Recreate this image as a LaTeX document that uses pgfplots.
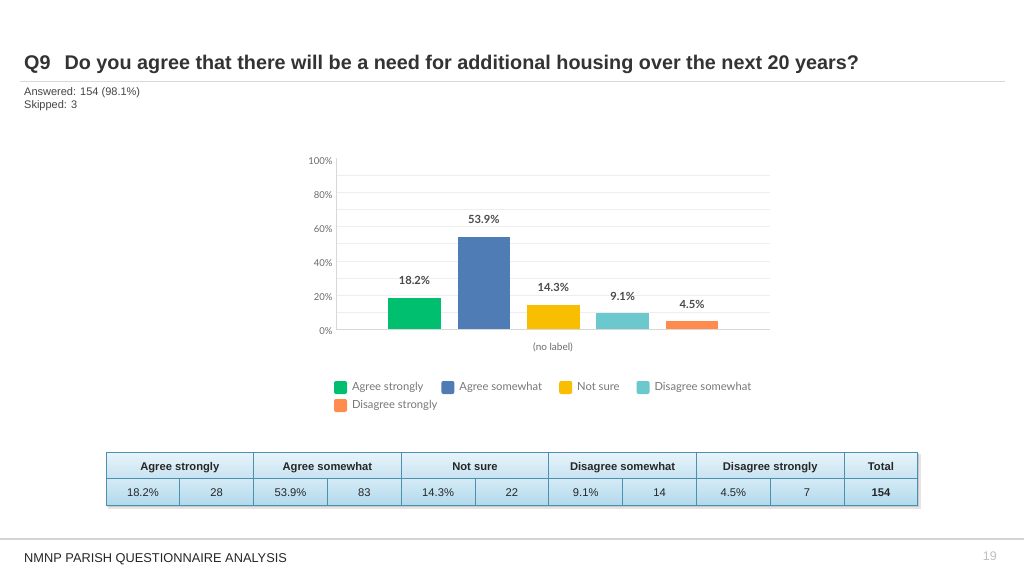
\documentclass[border=0pt]{standalone}
\usepackage{fontspec}
\setmainfont{Liberation Sans}
\newfontfamily\lato{Lato}
\usepackage{pgfplots}
\pgfplotsset{compat=1.18}
\definecolor{cgreen}{HTML}{00BF6F}
\definecolor{cblue}{HTML}{507CB6}
\definecolor{cyellow}{HTML}{F9BE00}
\definecolor{cteal}{HTML}{6BC8CD}
\definecolor{corange}{HTML}{FF8B4F}
\definecolor{titlec}{HTML}{333333}
\definecolor{subc}{HTML}{444444}
\definecolor{rulec}{HTML}{D9D9D9}
\definecolor{gridc}{HTML}{EEEEEE}
\definecolor{axisc}{HTML}{D8D8D8}
\definecolor{tickc}{HTML}{6A6A6A}
\definecolor{labc}{HTML}{4A4A4A}
\definecolor{legc}{HTML}{777777}
\definecolor{hdtop}{HTML}{E8F4FA}
\definecolor{hdbot}{HTML}{C8E3F1}
\definecolor{dttop}{HTML}{D5EBF6}
\definecolor{dtbot}{HTML}{B2D9EC}
\definecolor{bordc}{HTML}{4C90AF}
\definecolor{footc}{HTML}{D4D4D4}
\begin{document}
\begin{tikzpicture}[x=1pt,y=1pt]
\useasboundingbox (0,0) rectangle (1024,576);
\fill[white] (0,0) rectangle (1024,576);
% header
\node[anchor=base west, inner sep=0pt, text=titlec, font=\fontsize{19.8}{23}\selectfont\bfseries] at (24,506.7) {Q9\hspace{14pt}Do you agree that there will be a need for additional housing over the next 20 years?};
\draw[rulec, line width=0.8pt] (20,495) -- (1005,495);
\node[anchor=base west, inner sep=0pt, text=subc, font=\fontsize{11}{13}\selectfont] at (24,480) {Answered: 154 (98.1\%)};
\node[anchor=base west, inner sep=0pt, text=subc, font=\fontsize{11}{13}\selectfont] at (24,467) {Skipped: 3};
% chart
\begin{axis}[
  at={(336pt,247pt)}, anchor=south west,
  scale only axis, width=434pt, height=170.5pt,
  ymin=0, ymax=100, xmin=-1.131, xmax=5.122,
  ybar, bar width=52.5pt, bar shift=0pt,
  /pgf/number format/assume math mode=true,
  xtick=\empty,
  ytick={0,20,...,100}, minor ytick={10,20,...,90},
  yminorgrids,
  minor grid style={gridc, line width=0.6pt},
  major tick length=0pt, minor tick length=0pt,
  yticklabel={\pgfmathprintnumber{\tick}\%},
  yticklabel style={font=\lato\fontsize{9.5}{11}\selectfont, text=tickc, yshift=-2.5pt},
  axis x line*=bottom, axis y line*=left,
  axis line style={axisc, line width=0.8pt, -},
  xlabel={(no label)},
  xlabel style={at={(axis description cs:0.5,0)}, anchor=center, yshift=-18pt, font=\lato\fontsize{10}{12}\selectfont, text=tickc},
  nodes near coords={\pgfmathprintnumber[fixed,precision=1]{\pgfplotspointmeta}\%},
  every node near coord/.append style={font=\lato\bfseries\fontsize{11.2}{13}\selectfont, text=labc, anchor=south, inner sep=0pt, yshift=13pt},
  legend columns=4, legend cell align=left,
  legend style={at={(0,0)}, anchor=north west, xshift=-2pt, yshift=-52pt, draw=none, fill=none, inner sep=0pt, outer sep=0pt,
    column sep=5pt, row sep=5pt, font=\lato\fontsize{11.2}{13}\selectfont, text=legc, nodes={inner sep=0pt},
    /tikz/column 2/.style={column sep=4pt}, /tikz/column 4/.style={column sep=17pt}, /tikz/column 6/.style={column sep=17pt}},
  lg/.style={legend image code/.code={\fill[##1, draw=none, rounded corners=2pt] (0pt,-6.5pt) rectangle (13pt,6.5pt);}},
]
\addplot[fill=cgreen, draw=none, lg] coordinates {(0,18.2)};
\addlegendentry{Agree strongly}
\addplot[fill=cblue, draw=none, lg] coordinates {(1,53.9)};
\addlegendentry{Agree somewhat}
\addplot[fill=cyellow, draw=none, lg] coordinates {(2,14.3)};
\addlegendentry{Not sure}
\addplot[fill=cteal, draw=none, lg] coordinates {(3,9.1)};
\addlegendentry{Disagree somewhat}
\addplot[fill=corange, draw=none, lg] coordinates {(4,4.5)};
\addlegendentry{Disagree strongly}
\end{axis}
% table
\fill[black, opacity=0.10] (108,67.5) rectangle (920.5,122);
\fill[black, opacity=0.12] (107,69) rectangle (919.3,123);
\foreach \a/\b/\t in {106/253.6/Agree strongly, 253.6/401.2/Agree somewhat, 401.2/548.8/Not sure, 548.8/696.4/Disagree somewhat, 696.4/844/Disagree strongly, 844/917.8/Total} {
  \shade[top color=hdtop, bottom color=hdbot] (\a,97.5) rectangle (\b,124);
  \node[anchor=base, inner sep=0pt, font=\bfseries\fontsize{11.2}{13}\selectfont, text=black!85] at ({(\a+\b)/2},106) {\t};
}
\shade[top color=dttop, bottom color=dtbot] (106,71) rectangle (917.8,97.5);
\foreach \k/\t in {0/18.2\%, 1/28, 2/53.9\%, 3/83, 4/14.3\%, 5/22, 6/9.1\%, 7/14, 8/4.5\%, 9/7} {
  \node[anchor=base, inner sep=0pt, font=\fontsize{11.2}{13}\selectfont, text=black!85] at ({106+73.8*(\k+0.5)},79.3) {\t};
}
\node[anchor=base, inner sep=0pt, font=\bfseries\fontsize{11.2}{13}\selectfont, text=black!85] at (880.9,79.3) {154};
\draw[bordc, line width=1pt] (106,71) rectangle (917.8,124);
\draw[bordc, line width=1pt] (106,97.5) -- (917.8,97.5);
\foreach \x in {253.6,401.2,548.8,696.4,844} {\draw[bordc, line width=1pt] (\x,71) -- (\x,124);}
\foreach \x in {179.8,327.4,475,622.6,770.2} {\draw[bordc, line width=1pt] (\x,71) -- (\x,97.5);}
% footer
\draw[footc, line width=1.5pt] (0,37) -- (1024,37);
\node[anchor=base west, inner sep=0pt, text=black!85, font=\fontsize{12.8}{15}\selectfont] at (24,14) {NMNP PARISH QUESTIONNAIRE ANALYSIS};
\node[anchor=base east, inner sep=0pt, text=black!25, font=\fontsize{12.5}{14}\selectfont] at (997,15.5) {19};
\end{tikzpicture}
\end{document}
